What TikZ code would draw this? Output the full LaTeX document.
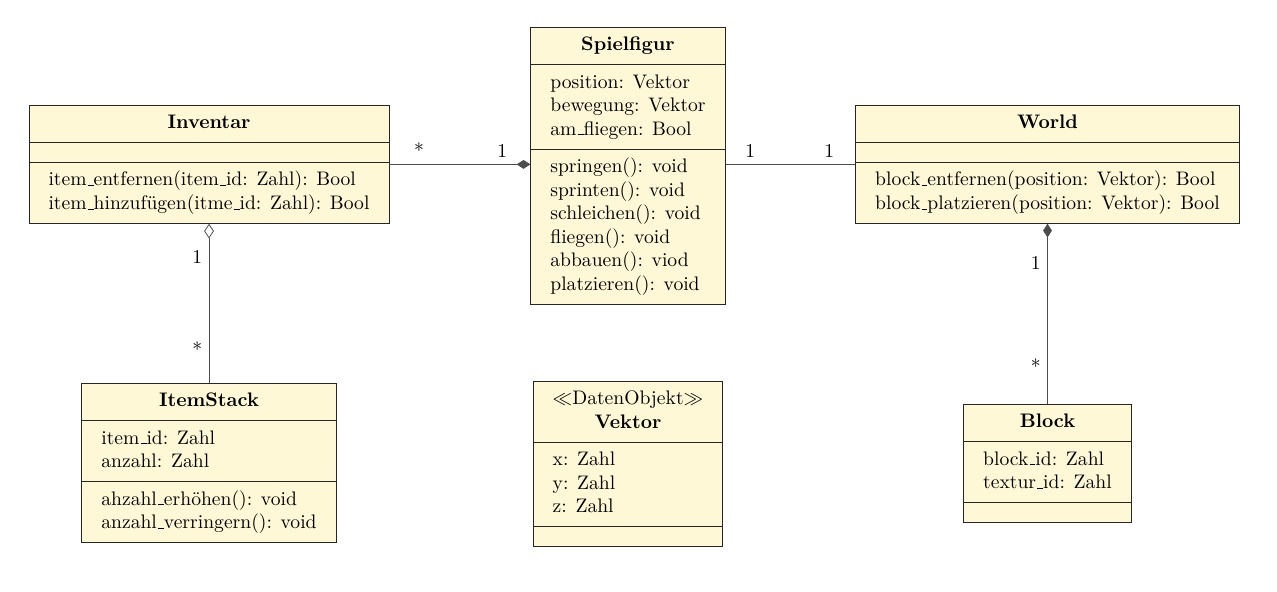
\documentclass[tikz,border=0pt]{standalone}
\usepackage{tikz}
\usepackage{amsmath}
\usetikzlibrary{shapes.multipart,arrows.meta,positioning}

\definecolor{classfill}{RGB}{255,248,214}
\newcommand{\ctitle}[1]{\begin{tabular}{@{}c@{}}#1\end{tabular}}
\newcommand{\cpart}[1]{\begin{tabular}{@{}l@{}}#1\end{tabular}}
\newcommand{\cempty}{\rule{0pt}{3pt}}
\newcommand{\us}{\leavevmode\kern.06em\vbox{\hrule width.3em}}

\begin{document}
\begin{tikzpicture}[draw=black]
\useasboundingbox (0,0) rectangle (22.899,-10.598);

    \tikzstyle{umlclass}=[rectangle split, rectangle split parts=3,
      rectangle split part align={center,left,left}, draw=black!85,
      fill=classfill, anchor=north, inner xsep=10pt, inner ysep=3.33pt];
    \tikzstyle{assoc}=[draw=black!70];
    \tikzstyle{mult}=[inner sep=3.33pt];
    \tikzstyle{comp}=[-{Diamond[length=7pt,width=4.5pt]}];

% obere Reihe
\node[umlclass] (inventar) at (3.748,-1.883) {\ctitle{\textbf{Inventar}}
  \nodepart{two} \cempty
  \nodepart{three} \cpart{item\us entfernen(item\us id: Zahl): Bool\\
    item\us hinzufügen(itme\us id: Zahl): Bool}};

\node[umlclass] (spielfigur) at (11.261,-0.484) {\ctitle{\textbf{Spielfigur}}
  \nodepart{two} \cpart{position: Vektor\\ bewegung: Vektor\\ am\us fliegen: Bool}
  \nodepart{three} \cpart{springen(): void\\ sprinten(): void\\ schleichen(): void\\
    fliegen(): void\\ abbauen(): viod\\ platzieren(): void}};

\node[umlclass] (world) at (18.784,-1.883) {\ctitle{\textbf{World}}
  \nodepart{two} \cempty
  \nodepart{three} \cpart{block\us entfernen(position: Vektor): Bool\\
    block\us platzieren(position: Vektor): Bool}};

% untere Reihe
\node[umlclass] (itemstack) at (3.748,-6.868) {\ctitle{\textbf{ItemStack}}
  \nodepart{two} \cpart{item\us id: Zahl\\ anzahl: Zahl}
  \nodepart{three} \cpart{ahzahl\us erhöhen(): void\\ anzahl\us verringern(): void}};

\node[umlclass] (vektor) at (11.261,-6.832) {\ctitle{$\ll$DatenObjekt$\gg$\\ \textbf{Vektor}}
  \nodepart{two} \cpart{x: Zahl\\ y: Zahl\\ z: Zahl}
  \nodepart{three} \cempty};

\node[umlclass] (block) at (18.784,-7.245) {\ctitle{\textbf{Block}}
  \nodepart{two} \cpart{block\us id: Zahl\\ textur\us id: Zahl}
  \nodepart{three} \cempty};

% Beziehungen
\draw[assoc, comp] (inventar.east) -- (inventar.east -| spielfigur.west)
      node[mult, above, pos=0.21] {*} node[mult, above, pos=0.8] {1};
\draw[assoc] (inventar.east -| spielfigur.east) -- (inventar.east -| world.west)
      node[mult, above, pos=0.19] {1} node[mult, above, pos=0.8] {1};
\draw[assoc, {Diamond[open,length=7.5pt,width=5pt]}-] (inventar.south) -- (itemstack.north)
      node[mult, left, pos=0.21] {1} node[mult, left, pos=0.79] {*};
\draw[assoc, {Diamond[length=7pt,width=4.5pt]}-] (world.south) -- (block.north)
      node[mult, left, pos=0.22] {1} node[mult, left, pos=0.79] {*};
\end{tikzpicture}
\end{document}
